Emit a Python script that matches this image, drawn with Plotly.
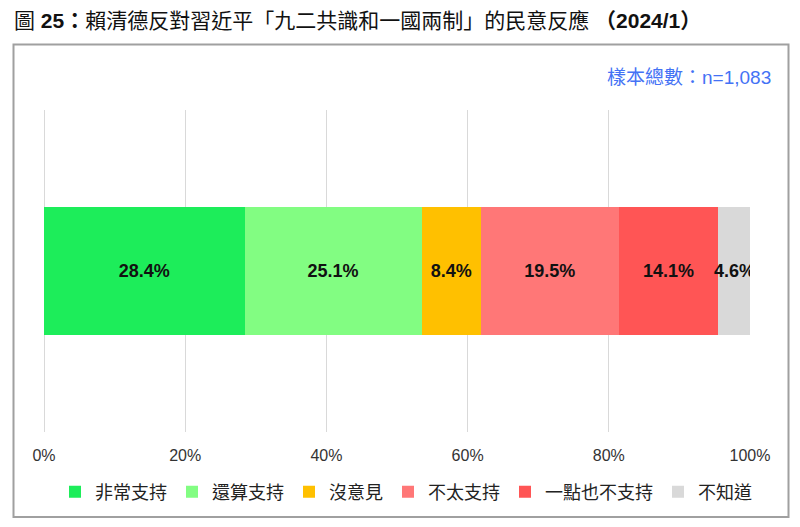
import plotly.graph_objects as go

categories = ["非常支持", "還算支持", "沒意見", "不太支持", "一點也不支持", "不知道"]
values = [28.4, 25.1, 8.4, 19.5, 14.1, 4.6]
colors = ["#1ded5a", "#82fd82", "#ffc000", "#ff7777", "#ff5555", "#d9d9d9"]
tick_vals = [0, 20, 40, 60, 80, 100]
tick_text = ["0%", "20%", "40%", "60%", "80%", "100%"]

FONT = "Liberation Sans, Arial, Noto Sans CJK TC, sans-serif"

fig = go.Figure()
for cat, val, col in zip(categories, values, colors):
    fig.add_trace(go.Bar(
        x=[val], y=[""], name=cat, orientation="h",
        marker=dict(color=col, line=dict(width=0)),
        text=[f"{val:.1f}%"], textposition="inside", insidetextanchor="middle",
        textangle=0,
        textfont=dict(family=FONT, size=18, color="#111111"),
        texttemplate="<b>%{text}</b>",
        hoverinfo="skip",
    ))

W, H = 800, 527
ml, mr, mt, mb = 44, 50, 110, 95
pw, ph = W - ml - mr, H - mt - mb

def px(x):
    return (x - ml) / pw

def py(y):
    return (H - mb - y) / ph

fig.update_layout(
    width=W, height=H,
    margin=dict(l=ml, r=mr, t=mt, b=mb, pad=0),
    barmode="stack", bargap=0.6,
    paper_bgcolor="white", plot_bgcolor="white",
    uniformtext=dict(minsize=18, mode="show"),
    font=dict(family=FONT, color="#222222"),
    xaxis=dict(range=[0, 100], tickvals=tick_vals, ticktext=tick_text,
               showgrid=True, gridcolor="#d9d9d9", gridwidth=1,
               zeroline=True, zerolinecolor="#d9d9d9", zerolinewidth=1,
               showline=False, ticks="outside", ticklen=9, tickcolor="rgba(0,0,0,0)",
               tickfont=dict(family=FONT, size=16, color="#333333"), fixedrange=True),
    yaxis=dict(showticklabels=False, showgrid=False, zeroline=False, fixedrange=True),
    legend=dict(orientation="h", x=px(406), xanchor="center", y=py(492), yanchor="middle",
                font=dict(family=FONT, size=18, color="#222222"),
                traceorder="normal", itemwidth=30, tracegroupgap=0),
    showlegend=True,
    shapes=[dict(type="rect", xref="paper", yref="paper",
                 x0=px(13.5), x1=px(788.5), y0=py(517), y1=py(44.5),
                 line=dict(color="#a0a0a0", width=2), fillcolor="rgba(0,0,0,0)", layer="below")],
    annotations=[
        dict(xref="paper", yref="paper", x=px(12), y=py(20), xanchor="left", yanchor="middle",
             text="圖 <b>25：</b>賴清德反對習近平「九二共識和一國兩制」的民意反應 <b>（2024/1）</b>",
             showarrow=False, font=dict(family=FONT, size=21, color="#111111")),
        dict(xref="paper", yref="paper", x=px(773), y=py(77), xanchor="right", yanchor="middle",
             text="樣本總數：n=1,083", showarrow=False,
             font=dict(family=FONT, size=19, color="#4472f5")),
    ],
)

fig.write_html("out.html")
